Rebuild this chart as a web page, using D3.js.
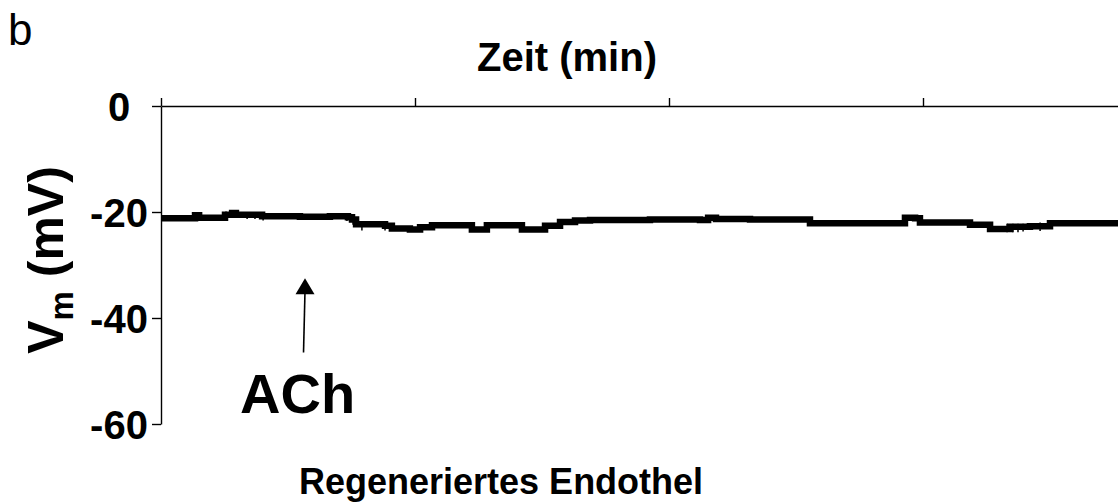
<!DOCTYPE html>
<html>
<head>
<meta charset="utf-8">
<script src="https://cdn.jsdelivr.net/npm/d3@7"></script>
<style>
  body { margin: 0; background: #fff; }
  svg { display: block; font-family: "Liberation Sans", Arial, sans-serif; }
</style>
</head>
<body>
<script>
// Zeitachse (min) und Membranpotential (mV)
var timeMin = [0, 0.114, 0.134, 0.150, 0.252, 0.280, 0.295, 0.398, 0.547, 0.665,
  0.736, 0.752, 0.768, 0.882, 0.909, 0.980, 1.020, 1.067, 1.224, 1.283,
  1.421, 1.512, 1.571, 1.630, 1.689, 1.925, 2.122, 2.154, 2.185, 2.319,
  2.555, 2.752, 2.929, 2.969, 2.988, 3.185, 3.264, 3.343, 3.421, 3.500, 3.768];
var vm = [-21.2, -21.2, -20.6, -21.1, -20.5, -20.2, -20.5, -20.8, -20.9, -20.8,
  -21.0, -21.4, -22.3, -22.6, -23.1, -23.3, -22.9, -22.5, -23.3, -22.5,
  -23.3, -22.6, -21.9, -21.6, -21.5, -21.4, -21.5, -21.1, -21.3, -21.4,
  -22.1, -22.1, -21.1, -21.2, -22.0, -22.4, -23.2, -22.8, -22.7, -22.1, -22.0];
// kurze Rauschspitzen der Spur
var spikeTime = [0.130, 0.256, 0.295, 0.339, 0.370, 0.402, 0.732, 0.756, 0.791, 0.882,
  3.331, 3.354, 3.374, 3.394, 3.461];
var spikeHi = [-20.3, -19.9, -19.9, -20.1, -20.2, -20.3, -20.5, -20.8, -21.8, -22.0,
  -22.2, -22.2, -22.2, -22.2, -22.0];
var spikeLo = [-21.6, -21.0, -21.0, -21.3, -21.3, -21.6, -21.7, -22.4, -23.5, -23.5,
  -23.8, -23.8, -23.8, -23.7, -23.6];
var yTicks = [0, -20, -40, -60];
var xTicks = [0, 1, 2, 3, 4];
// Pfeil fuer ACh (Zeitpunkt, Spannung Spitze / Ende)
var achTime = 0.567;
var achTip = -32.5, achTail = -46.5;

var width = 1118, height = 502;

var svg = d3.select("body").append("svg")
  .attr("width", width)
  .attr("height", height);

var x = d3.scaleLinear().domain([0, 4]).range([161, 1177]);
var y = d3.scaleLinear().domain([-60, 0]).range([424, 106]);

// obere Achse ohne Beschriftung
var gx = svg.append("g")
  .attr("transform", "translate(0," + y(0) + ")")
  .call(d3.axisTop(x).tickValues(xTicks).tickSize(8).tickSizeOuter(0).tickFormat(""));

var gy = svg.append("g")
  .attr("transform", "translate(" + x(0) + ",0)")
  .call(d3.axisLeft(y).tickValues(yTicks).tickSize(9).tickSizeOuter(0).tickFormat(function(d) { return String(d); }));

svg.selectAll(".domain, .tick line")
  .attr("stroke", "#000")
  .attr("stroke-width", 1.4);

// Beschriftung zentriert wie im Original
gy.selectAll(".tick text")
  .attr("x", -42)
  .attr("text-anchor", "middle")
  .attr("font-size", 40)
  .attr("font-weight", "bold")
  .attr("fill", "#000")
  .attr("dy", "0.36em");

// Messspur
var line = d3.line()
  .x(function(d, i) { return x(timeMin[i]); })
  .y(function(d) { return y(d); })
  .curve(d3.curveStepAfter);

svg.append("path")
  .datum(vm)
  .attr("d", line)
  .attr("fill", "none")
  .attr("stroke", "#000")
  .attr("stroke-width", 6.5);

svg.selectAll(".spike")
  .data(spikeTime)
  .enter().append("line")
  .attr("class", "spike")
  .attr("x1", function(d) { return x(d); })
  .attr("x2", function(d) { return x(d); })
  .attr("y1", function(d, i) { return y(spikeHi[i]); })
  .attr("y2", function(d, i) { return y(spikeLo[i]); })
  .attr("stroke", "#000")
  .attr("stroke-width", 1.5);

// Pfeil
svg.append("line")
  .attr("x1", x(achTime) - 1.5).attr("y1", y(achTail))
  .attr("x2", x(achTime)).attr("y2", y(achTip) + 12)
  .attr("stroke", "#000").attr("stroke-width", 1.6);

svg.append("path")
  .attr("d", "M" + x(achTime) + "," + y(achTip) +
    "L" + (x(achTime) - 9.5) + "," + (y(achTip) + 16) +
    "L" + (x(achTime) + 9.5) + "," + (y(achTip) + 16) + "Z")
  .attr("fill", "#000");

svg.append("text")
  .attr("x", 240).attr("y", 413)
  .attr("font-size", 56).attr("font-weight", "bold")
  .text("ACh");

// Titel, Beschriftungen
svg.append("text")
  .attr("x", 567).attr("y", 71)
  .attr("text-anchor", "middle")
  .attr("font-size", 40).attr("font-weight", "bold")
  .text("Zeit (min)");

svg.append("text")
  .attr("x", 299).attr("y", 494)
  .attr("font-size", 36).attr("font-weight", "bold")
  .text("Regeneriertes Endothel");

var yl = svg.append("text")
  .attr("transform", "translate(63,260) rotate(-90)")
  .attr("text-anchor", "middle")
  .attr("font-size", 50).attr("font-weight", "bold");
yl.append("tspan").text("V");
yl.append("tspan").attr("font-size", 33).attr("dy", 10).text("m");
yl.append("tspan").attr("dy", -10).text(" (mV)");

svg.append("text")
  .attr("x", 8).attr("y", 45)
  .attr("font-size", 44)
  .text("b");
</script>
</body>
</html>
